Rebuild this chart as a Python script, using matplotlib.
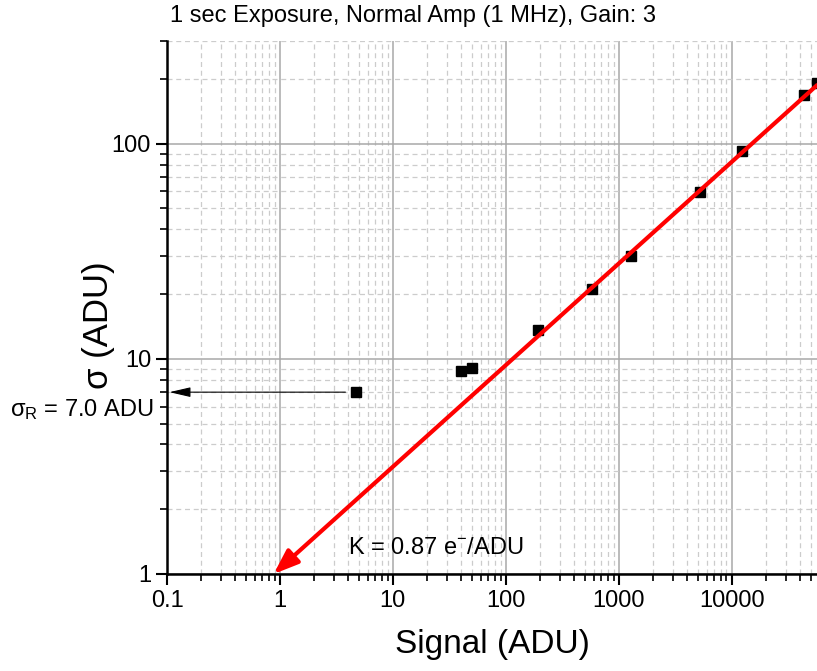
import matplotlib
matplotlib.use("Agg")
import matplotlib.pyplot as plt
from matplotlib.ticker import LogLocator, FuncFormatter, NullFormatter

plt.rcParams['font.family'] = ['Liberation Sans', 'DejaVu Sans']
plt.rcParams['mathtext.fontset'] = 'custom'
plt.rcParams['mathtext.rm'] = 'Liberation Sans'
plt.rcParams['mathtext.it'] = 'Liberation Sans'

# measured photon transfer points
signal = [4.7, 40, 50, 192, 577, 1277, 5210, 12250, 43400, 56500]
sigma = [7.0, 8.75, 9.1, 13.6, 21.2, 30.2, 59.8, 92.9, 169, 192]

# fitted line (drawn from right end down to the arrow tip)
fit_x = [57000, 0.88]
fit_y = [187, 1.0]

read_noise = 7.0
read_noise_start = 3.8

x_lim = (0.1, 57000)
y_lim = (1, 300)

fig = plt.figure(figsize=(8.17, 6.71), dpi=100)
ax = fig.add_axes([167 / 817, 1 - 574 / 671, 650 / 817, 533 / 671])

ax.set_xscale('log')
ax.set_yscale('log')
ax.set_xlim(*x_lim)
ax.set_ylim(*y_lim)

# grid
ax.grid(which='major', color='#a8a8a8', lw=1.1, ls='-', zorder=0)
ax.grid(which='minor', color='#cccccc', lw=0.9, ls=(0, (4, 3)), zorder=0)
ax.set_axisbelow(True)

ax.plot(signal, sigma, 's', color='black', ms=7.5, zorder=3)

ax.annotate('', xy=(fit_x[1], fit_y[1]), xytext=(fit_x[0], fit_y[0]),
            arrowprops=dict(arrowstyle='-|>,head_length=0.75,head_width=0.28',
                            color='red', lw=3, shrinkA=0, shrinkB=0,
                            mutation_scale=20), zorder=4)

ax.annotate('', xy=(0.105, read_noise), xytext=(read_noise_start, read_noise),
            arrowprops=dict(arrowstyle='-|>,head_length=0.65,head_width=0.15',
                            color='black', lw=0.8, shrinkA=0, shrinkB=0,
                            mutation_scale=20), zorder=4)

ax.text(4.0, 1.32, r'K = 0.87 e$^{-}$/ADU', fontsize=17, va='center', ha='left')
fig.text(10 / 817, 1 - 410 / 671, r'$\sigma_{R}$ = 7.0 ADU', fontsize=17,
         va='center', ha='left')
fig.text(170 / 817, 1 - 16 / 671, '1 sec Exposure, Normal Amp (1 MHz), Gain: 3',
         fontsize=17, va='center', ha='left')

ax.set_xlabel('Signal (ADU)', fontsize=24, labelpad=12)
ax.set_ylabel('σ (ADU)', fontsize=25)
ax.yaxis.set_label_coords(-0.08, 0.467)

fmt = FuncFormatter(lambda v, p: '{:g}'.format(v))
ax.xaxis.set_major_formatter(fmt)
ax.yaxis.set_major_formatter(fmt)
ax.xaxis.set_minor_formatter(NullFormatter())
ax.yaxis.set_minor_formatter(NullFormatter())
ax.xaxis.set_major_locator(LogLocator(base=10, numticks=20))
ax.xaxis.set_minor_locator(LogLocator(base=10, subs=range(2, 10), numticks=20))

ax.tick_params(which='major', direction='out', length=8, width=1.5,
               labelsize=17, color='black')
ax.tick_params(which='minor', direction='out', length=5, width=1.2, color='black')

for s in ['top', 'right']:
    ax.spines[s].set_visible(False)
for s in ['left', 'bottom']:
    ax.spines[s].set_linewidth(1.8)

fig.savefig('out.png', dpi=100)
